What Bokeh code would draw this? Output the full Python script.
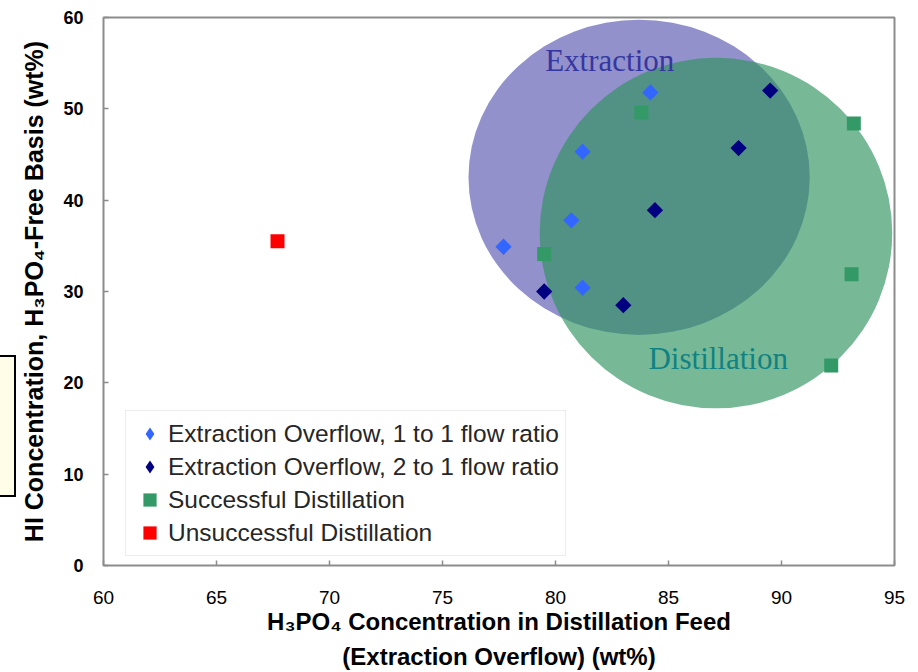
import math

from bokeh.core.properties import value
from bokeh.embed import file_html
from bokeh.layouts import row
from bokeh.models import Div, FixedTicker, Legend, LegendItem, Range1d
from bokeh.plotting import figure
from bokeh.resources import INLINE

# H3PO4 in the distillation feed (wt%) vs HI on an H3PO4-free basis (wt%)
ratio_1to1_x = [77.7, 80.7, 81.2, 81.2, 84.2]
ratio_1to1_y = [34.9, 37.8, 45.3, 30.4, 51.8]
ratio_2to1_x = [79.5, 83.0, 84.4, 88.1, 89.5]
ratio_2to1_y = [30.0, 28.5, 38.9, 45.7, 52.0]
success_x = [83.8, 79.5, 93.2, 93.1, 92.2]
success_y = [49.6, 34.1, 48.4, 31.9, 21.9]
fail_x = [67.7]
fail_y = [35.5]

# operating regions (ellipses) and their captions
region_names = ["Extraction", "Distillation"]
region_cx = [83.7, 87.1]
region_cy = [42.5, 36.4]
region_w = [15.1, 15.6]
region_h = [34.5, 38.4]
region_label_x = [82.4, 87.2]
region_label_y = [55.3, 22.7]

x_ticks = [60, 65, 70, 75, 80, 85, 90, 95]
y_ticks = [0, 10, 20, 30, 40, 50, 60]

series_labels = [
    "Extraction Overflow, 1 to 1 flow ratio",
    "Extraction Overflow, 2 to 1 flow ratio",
    "Successful Distillation",
    "Unsuccessful Distillation",
]

p = figure(
    width=902, height=672,
    x_range=Range1d(60, 95), y_range=Range1d(0, 60),
    output_backend="svg", toolbar_location=None,
    min_border_left=87, min_border_right=24,
    min_border_top=17, min_border_bottom=107,
)
p.grid.visible = False
p.background_fill_color = "white"
p.border_fill_color = "white"
p.outline_line_color = "#8c8c8c"
p.outline_line_width = 2

# extraction region sits underneath, distillation region drawn over it
p.ellipse(x=[region_cx[0]], y=[region_cy[0]], width=[region_w[0]], height=[region_h[0]],
          fill_color="#4a48a8", fill_alpha=0.6, line_color=None)
p.ellipse(x=[region_cx[1]], y=[region_cy[1]], width=[region_w[1]], height=[region_h[1]],
          fill_color="#2e9460", fill_alpha=0.65, line_color=None)

# data points (diamonds are squares turned by 45 degrees)
p.scatter(ratio_1to1_x, ratio_1to1_y, marker="square", angle=math.pi / 4, size=11.5,
          fill_color="#3366ff", line_color=None)
p.scatter(ratio_2to1_x, ratio_2to1_y, marker="square", angle=math.pi / 4, size=11.5,
          fill_color="#000080", line_color=None)
r_ok = p.scatter(success_x, success_y, marker="square", size=14,
                 fill_color="#339966", line_color=None)
r_bad = p.scatter(fail_x, fail_y, marker="square", size=14,
                  fill_color="#ff0000", line_color=None)

# region captions
p.text(x=[region_label_x[0]], y=[region_label_y[0]], text=[region_names[0]],
       text_font=value("Liberation Serif"), text_font_size="31px",
       text_color="#3636a0", text_align="center", text_baseline="middle")
p.text(x=[region_label_x[1]], y=[region_label_y[1]], text=[region_names[1]],
       text_font=value("Liberation Serif"), text_font_size="31px",
       text_color="#108282", text_align="center", text_baseline="middle")

# legend swatches for the diamond series (no visible point of their own)
nan = float("nan")
key_11 = p.scatter(x=[nan], y=[nan], marker="diamond", fill_color="#3366ff", line_color=None)
key_21 = p.scatter(x=[nan], y=[nan], marker="diamond", fill_color="#000080", line_color=None)

legend = Legend(
    items=[
        LegendItem(label=series_labels[0], renderers=[key_11]),
        LegendItem(label=series_labels[1], renderers=[key_21]),
        LegendItem(label=series_labels[2], renderers=[r_ok]),
        LegendItem(label=series_labels[3], renderers=[r_bad]),
    ],
    location=(22, 9), margin=0, padding=6, spacing=0,
    glyph_width=35, glyph_height=33, label_height=33, label_standoff=1,
    label_text_font="Liberation Sans", label_text_font_size="24.5px",
    label_text_color="#262626",
    border_line_color="#d9d9d9", border_line_width=1,
    background_fill_color="white", background_fill_alpha=1.0,
)
p.add_layout(legend)

# axes
p.xaxis.ticker = FixedTicker(ticks=x_ticks)
p.yaxis.ticker = FixedTicker(ticks=y_ticks)
for ax in (p.xaxis[0], p.yaxis[0]):
    ax.axis_line_color = None
    ax.major_tick_in = 5
    ax.major_tick_out = 0
    ax.major_tick_line_color = "#8c8c8c"
    ax.major_tick_line_width = 1.5
    ax.minor_tick_line_color = None
    ax.major_label_text_font = "Liberation Sans"
    ax.major_label_text_color = "black"
    ax.axis_label_text_font = "Liberation Sans"
    ax.axis_label_text_font_style = "bold"
    ax.axis_label_text_color = "black"

p.xaxis.major_label_text_font_size = "19px"
p.xaxis.major_label_standoff = 25
p.xaxis.axis_label = "H₃PO₄ Concentration in Distillation Feed\n(Extraction Overflow) (wt%)"
p.xaxis.axis_label_text_font_size = "24px"
p.xaxis.axis_label_text_line_height = 1.3
p.xaxis.axis_label_standoff = 1

p.yaxis.major_label_text_font_size = "18px"
p.yaxis.major_label_text_font_style = "bold"
p.yaxis.major_label_standoff = 20
p.yaxis.axis_label = "HI Concentration, H₃PO₄-Free Basis (wt%)"
p.yaxis.axis_label_text_font_size = "25px"
p.yaxis.axis_label_standoff = 12

# small note box cut off at the left edge of the page
note_box = Div(
    text="", width=16, height=142, margin=(355, 0, 0, 0),
    styles={
        "background-color": "#fffde8",
        "border": "2px solid black",
        "border-left": "none",
        "box-sizing": "border-box",
    },
)

layout = row(note_box, p, spacing=0)

open("out.html", "w").write(file_html(layout, INLINE))
